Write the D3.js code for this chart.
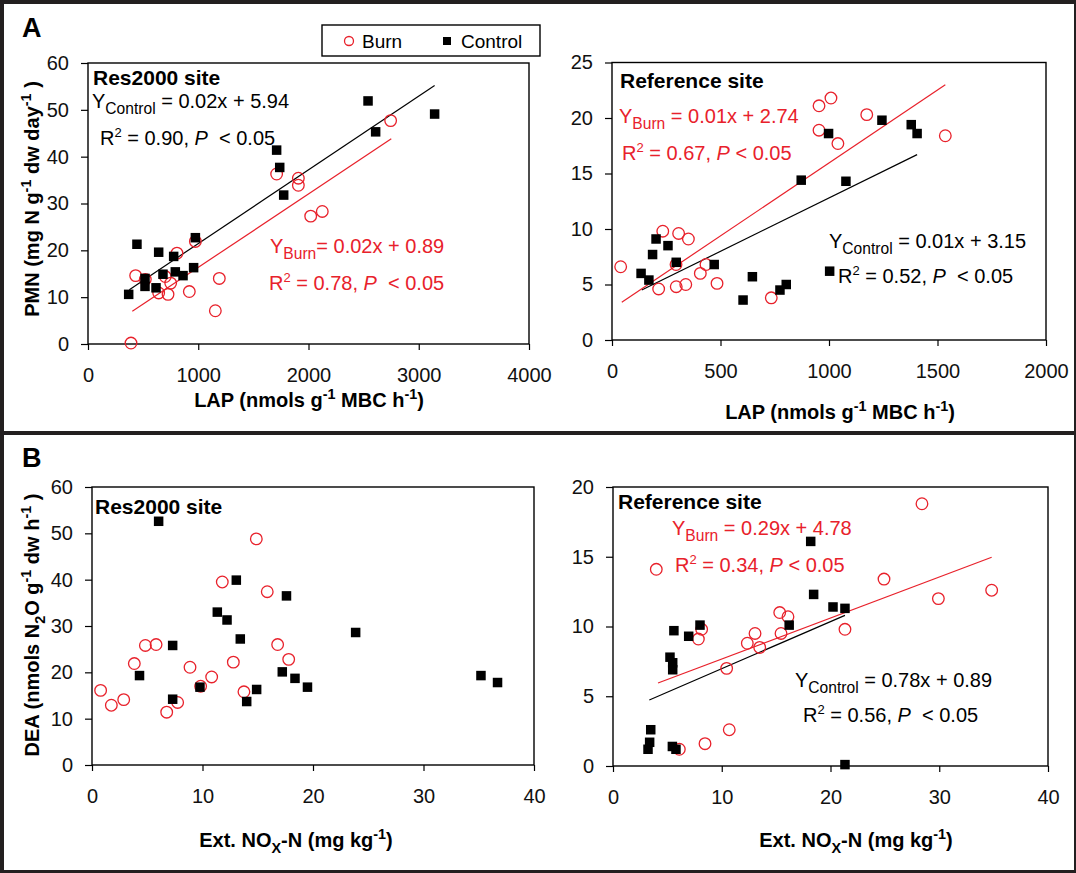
<!DOCTYPE html>
<html><head><meta charset="utf-8">
<script src="https://cdn.jsdelivr.net/npm/d3@7"></script>
<style>
html,body{margin:0;padding:0;background:#fff;}
svg text{font-family:"Liberation Sans",Arial,sans-serif;white-space:pre;}
</style></head>
<body>
<svg id="chart" width="1076" height="873"></svg>
<script>
// ---------------- DATA ----------------
// Panel A, Res2000 site: [LAP, PMN]
const res2000PmnBurn = [[2745,47.7],[1711,36.3],[1908,35.4],[1908,33.9],[2125,28.3],[2020,27.3],[974,21.9],[807,19.4],[432,14.6],[701,14.4],[750,13.0],[1191,14.0],[641,10.9],[726,10.6],[919,11.2],[1155,7.1],[390,0.2],[520,13.8]];
const res2000PmnControl = [[2540,51.9],[3144,49.1],[2609,45.3],[1711,41.4],[1739,37.7],[1775,31.8],[974,22.7],[444,21.3],[641,19.6],[777,18.7],[958,16.3],[517,14.0],[680,14.9],[792,15.4],[862,14.6],[517,12.3],[617,12.0],[369,10.6]];
const res2000PmnBurnFit = [[402,7.0],[2751,43.8]];
const res2000PmnControlFit = [[375,11.6],[3144,55.2]];
// Panel A, Reference site: [LAP, PMN]
const refPmnBurn = [[1009,21.8],[954,21.1],[1174,20.3],[954,18.9],[1041,17.7],[1536,18.4],[234,9.8],[307,9.6],[352,9.1],[40,6.6],[295,6.8],[433,6.8],[407,6.0],[484,5.1],[215,4.6],[296,4.8],[340,5.0],[734,3.8]];
const refPmnControl = [[1244,19.8],[1379,19.4],[1406,18.6],[998,18.6],[872,14.4],[1078,14.3],[203,9.1],[258,8.5],[187,7.7],[296,7.0],[471,6.8],[134,6.0],[170,5.4],[647,5.7],[1003,6.2],[803,5.0],[774,4.5],[604,3.6]];
const refPmnBurnFit = [[45,3.4],[1536,23.0]];
const refPmnControlFit = [[137,4.5],[1406,16.7]];
// Panel B, Res2000 site: [NOx-N, DEA]
const res2000DeaBurn = [[14.87,48.8],[11.79,39.5],[15.86,37.4],[4.83,25.8],[5.8,26.0],[16.8,26.0],[3.83,21.9],[12.79,22.2],[17.8,22.8],[8.87,21.1],[10.83,19.0],[9.83,17.0],[0.78,16.1],[2.87,14.1],[1.75,12.9],[7.75,13.5],[13.75,15.8],[6.76,11.4]];
const res2000DeaControl = [[6.03,52.6],[13.06,39.9],[17.6,36.5],[11.34,33.0],[12.22,31.3],[13.42,27.2],[23.86,28.6],[7.3,25.8],[4.3,19.3],[17.22,20.1],[18.37,18.7],[19.5,16.8],[35.2,19.3],[36.7,17.8],[9.77,16.8],[14.9,16.3],[7.3,14.2],[14.0,13.7]];
// Panel B, Reference site: [NOx-N, DEA]
const refDeaBurn = [[28.41,18.8],[3.98,14.1],[24.92,13.4],[34.82,12.6],[29.92,12.0],[15.33,11.0],[16.09,10.7],[21.33,9.8],[8.15,9.8],[7.85,9.1],[13.06,9.5],[15.45,9.5],[12.35,8.8],[13.49,8.5],[10.45,7.0],[10.69,2.6],[8.46,1.6],[6.1,1.2]];
const refDeaControl = [[18.18,16.1],[18.45,12.3],[20.23,11.4],[21.33,11.3],[16.2,10.1],[8.0,10.1],[5.6,9.7],[6.96,9.3],[5.24,7.8],[5.49,7.4],[5.49,6.9],[3.47,2.6],[3.37,1.7],[3.22,1.2],[5.46,1.4],[5.79,1.2],[21.33,0.1]];
const refDeaBurnFit = [[4.14,5.95],[34.82,14.96]];
const refDeaControlFit = [[3.34,4.73],[21.33,10.8]];

const lapTicksRes = [0,1000,2000,3000,4000];
const lapTicksRef = [0,500,1000,1500,2000];
const pmnTicksRes = [0,10,20,30,40,50,60];
const pmnTicksRef = [0,5,10,15,20,25];
const noxTicks = [0,10,20,30,40];
const deaTicksRes = [0,10,20,30,40,50,60];
const deaTicksRef = [0,5,10,15,20];
const legendLabels = ["Burn","Control"];

// ---------------- STYLE / LAYOUT ----------------
const RED = "#e8212b";
const FONT = '"Liberation Sans",Arial,sans-serif';
const svg = d3.select("#chart");

// frame
svg.append("rect").attr("width",1076).attr("height",873).attr("fill","#231f20");
svg.append("rect").attr("x",4).attr("y",4).attr("width",1070).attr("height",427).attr("fill","#fff");
svg.append("rect").attr("x",4).attr("y",435).attr("width",1070).attr("height",435).attr("fill","#fff");

function rich(g, x, y, parts, o) {
  const size = o.size || 20;
  const t = g.append("text").attr("x",x).attr("y",y)
    .attr("font-size",size).attr("fill",o.color||"#000")
    .attr("font-weight",o.bold?"bold":"normal")
    .attr("text-anchor",o.anchor||"start");
  let shift = 0;
  parts.forEach(p => {
    const target = p.sub ? size*0.28 : (p.sup ? -size*0.42 : 0);
    const ts = t.append("tspan").attr("dy", target - shift)
      .attr("font-size", (p.sub||p.sup) ? size*(p.scale||0.72) : size)
      .text(p.t);
    if (p.it) ts.attr("font-style","italic");
    shift = target;
  });
  return t;
}

const panels = [
  {box:[88,529,63,344], xd:[0,4000], yd:[0,60], xt:lapTicksRes, yt:pmnTicksRes,
   burn:res2000PmnBurn, ctrl:res2000PmnControl, burnFit:res2000PmnBurnFit, ctrlFit:res2000PmnControlFit},
  {box:[612,1046,62.5,340], xd:[0,2000], yd:[0,25], xt:lapTicksRef, yt:pmnTicksRef,
   burn:refPmnBurn, ctrl:refPmnControl, burnFit:refPmnBurnFit, ctrlFit:refPmnControlFit},
  {box:[92,534,487,765], xd:[0,40], yd:[0,60], xt:noxTicks, yt:deaTicksRes,
   burn:res2000DeaBurn, ctrl:res2000DeaControl},
  {box:[613,1048,487,766], xd:[0,40], yd:[0,20], xt:noxTicks, yt:deaTicksRef,
   burn:refDeaBurn, ctrl:refDeaControl, burnFit:refDeaBurnFit, ctrlFit:refDeaControlFit}
];

panels.forEach(p => {
  const [l,r,t,b] = p.box;
  const x = d3.scaleLinear().domain(p.xd).range([l,r]);
  const y = d3.scaleLinear().domain(p.yd).range([b,t]);
  const g = svg.append("g");
  const ya = g.append("g").attr("transform",`translate(${l},0)`)
    .call(d3.axisLeft(y).tickValues(p.yt).tickSize(7).tickPadding(12).tickFormat(d3.format("d")));
  const xa = g.append("g").attr("transform",`translate(0,${b})`)
    .call(d3.axisBottom(x).tickValues(p.xt).tickSize(6).tickPadding(18).tickFormat(d3.format("d")));
  [ya,xa].forEach(a => {
    a.select(".domain").remove();
    a.selectAll(".tick line").attr("stroke","#000").attr("stroke-width",1.2);
    a.selectAll(".tick text").attr("font-size",20).attr("font-family",FONT).attr("fill","#111");
  });
  g.append("rect").attr("x",l).attr("y",t).attr("width",r-l).attr("height",b-t)
    .attr("fill","none").attr("stroke","#000").attr("stroke-width",1.4);
  const line = d3.line().x(d=>x(d[0])).y(d=>y(d[1]));
  if (p.ctrlFit) g.append("path").attr("d",line(p.ctrlFit)).attr("stroke","#000").attr("stroke-width",1.2).attr("fill","none");
  if (p.burnFit) g.append("path").attr("d",line(p.burnFit)).attr("stroke",RED).attr("stroke-width",1.2).attr("fill","none");
  g.selectAll("circle.burn").data(p.burn).join("circle").attr("class","burn")
    .attr("cx",d=>x(d[0])).attr("cy",d=>y(d[1])).attr("r",5.8)
    .attr("fill","none").attr("stroke",RED).attr("stroke-width",1.3);
  const s = 9.5;
  g.selectAll("rect.ctrl").data(p.ctrl).join("rect").attr("class","ctrl")
    .attr("x",d=>x(d[0])-s/2).attr("y",d=>y(d[1])-s/2).attr("width",s).attr("height",s).attr("fill","#000");
});

// panel letters
svg.append("text").attr("x",22).attr("y",37).attr("font-size",27).attr("font-weight","bold").text("A");
svg.append("text").attr("x",22).attr("y",467).attr("font-size",27).attr("font-weight","bold").text("B");

// legend
const lg = svg.append("g");
lg.append("rect").attr("x",322).attr("y",25).attr("width",218).attr("height",31).attr("fill","#fff").attr("stroke","#000").attr("stroke-width",1.4);
lg.append("circle").attr("cx",349).attr("cy",41).attr("r",4.5).attr("fill","none").attr("stroke",RED).attr("stroke-width",1.3);
lg.append("text").attr("x",362).attr("y",48).attr("font-size",19).text(legendLabels[0]);
lg.append("rect").attr("x",443).attr("y",37).attr("width",8).attr("height",8).attr("fill","#000");
lg.append("text").attr("x",461).attr("y",48).attr("font-size",19).text(legendLabels[1]);

// site labels
rich(svg,93,85,[{t:"Res2000 site"}],{size:21,bold:true});
rich(svg,620,88,[{t:"Reference site"}],{size:21,bold:true});
rich(svg,95,514,[{t:"Res2000 site"}],{size:21,bold:true});
rich(svg,618,509,[{t:"Reference site"}],{size:21,bold:true});

// equations
const eq = (xx,yy,sub,rest,color) => rich(svg,xx,yy,[{t:"Y"},{t:sub,sub:true,scale:0.78},{t:rest}],{size:20,color});
const r2 = (xx,yy,val,gap,color) => rich(svg,xx,yy,[{t:"R"},{t:"2",sup:true,scale:0.65},{t:" = "+val+", "},{t:"P",it:true},{t:gap+"< 0.05"}],{size:20,color});
eq(92,108,"Control"," = 0.02x + 5.94","#000");
r2(100,145,"0.90","  ","#000");
eq(270,253,"Burn","= 0.02x + 0.89",RED);
r2(269,290,"0.78","  ",RED);

eq(619,123,"Burn"," = 0.01x + 2.74",RED);
r2(622,160,"0.67"," ",RED);
eq(829,248,"Control"," = 0.01x + 3.15","#000");
r2(838,283,"0.52","  ","#000");

eq(672,535,"Burn"," = 0.29x + 4.78",RED);
r2(675,572,"0.34"," ",RED);
eq(795,687,"Control"," = 0.78x + 0.89","#000");
r2(803,722,"0.56","  ","#000");

// axis titles
const lapTitle = [{t:"LAP (nmols g"},{t:"-1",sup:true},{t:" MBC h"},{t:"-1",sup:true},{t:")"}];
rich(svg,309,407,lapTitle,{size:20,bold:true,anchor:"middle"});
rich(svg,840,419,lapTitle,{size:20,bold:true,anchor:"middle"});
const noxTitle = [{t:"Ext. NO"},{t:"X",sub:true},{t:"-N (mg kg"},{t:"-1",sup:true},{t:")"}];
rich(svg,296,847,noxTitle,{size:20,bold:true,anchor:"middle"});
rich(svg,856,847,noxTitle,{size:20,bold:true,anchor:"middle"});
const pmnG = svg.append("g").attr("transform","translate(39,199) rotate(-90)");
rich(pmnG,0,0,[{t:"PMN (mg N g"},{t:"-1",sup:true},{t:" dw day"},{t:"-1",sup:true},{t:" )"}],{size:20,bold:true,anchor:"middle"});
const deaG = svg.append("g").attr("transform","translate(39,625) rotate(-90)");
rich(deaG,0,0,[{t:"DEA (nmols N"},{t:"2",sub:true},{t:"O g"},{t:"-1",sup:true},{t:" dw h"},{t:"-1",sup:true},{t:" )"}],{size:20,bold:true,anchor:"middle"});
</script>
</body></html>
